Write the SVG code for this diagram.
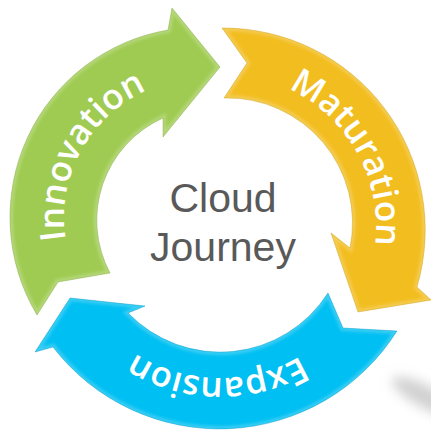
<svg xmlns="http://www.w3.org/2000/svg" width="431" height="430" viewBox="0 0 431 430">
  <style>
    .lbl { font-family: "Open Sans", "Liberation Sans", sans-serif; font-weight: 600; font-size: 35px; fill: #ffffff; }
    .ctr { font-family: "Liberation Sans", Arial, sans-serif; font-size: 41px; fill: #595959; text-anchor: middle; }
    .edge { fill: none; stroke: #ffffff; stroke-opacity: 0.22; stroke-width: 6; filter: url(#soft); }
    .rim { fill: none; stroke-width: 0.8; stroke-opacity: 0.5; }
  </style>
  <defs>
    <filter id="soft" x="-10%" y="-10%" width="120%" height="120%">
      <feGaussianBlur stdDeviation="1.6"/>
    </filter>
    <filter id="shadowBlur" x="-50%" y="-50%" width="200%" height="200%">
      <feGaussianBlur stdDeviation="6"/>
    </filter>
    <path id="gPath" d="M37,315 A190,190 0 0 1 168,30 L172,8 L220,67 L163,137 L163,118 A112,112 0 0 0 110,273 L58,282 Z"/>
    <path id="yPath" d="M222,28 A202,202 0 0 1 417,287 L431,300 L358,312 L331,233 L350,248 A125,125 0 0 0 224,98 L247,63 Z"/>
    <path id="bPath" d="M397,331 A210,210 0 0 1 53,347 L35,352 L70,298 L145,306 L128,313 A128,128 0 0 0 328,293 L343,328 Z"/>
    <clipPath id="gClip"><use href="#gPath"/></clipPath>
    <clipPath id="yClip"><use href="#yPath"/></clipPath>
    <clipPath id="bClip"><use href="#bPath"/></clipPath>
    <path id="gText" d="M82.8,288 A140,140 0 0 1 196.7,78.2"/>
    <path id="yText" d="M227.6,75 A151,151 0 0 1 354.4,303.8"/>
    <path id="bText" d="M355.4,301.4 A158,158 0 0 1 81.8,296.6"/>
  </defs>

  <ellipse cx="426" cy="397" rx="38" ry="11" transform="rotate(28 426 397)" fill="#9a9a9a" fill-opacity="0.45" filter="url(#shadowBlur)"/>

  <g id="innovation">
    <use href="#gPath" fill="#9fcb52"/>
    <use href="#gPath" class="edge" clip-path="url(#gClip)"/>
    <use href="#gPath" class="rim" stroke="#7fa63c"/>
    <text class="lbl"><textPath href="#gText" startOffset="50%" text-anchor="middle">Innovation</textPath></text>
  </g>

  <g id="maturation">
    <use href="#yPath" fill="#f2bd1f"/>
    <use href="#yPath" class="edge" clip-path="url(#yClip)"/>
    <use href="#yPath" class="rim" stroke="#c99a12"/>
    <text class="lbl"><textPath href="#yText" startOffset="50%" text-anchor="middle">Maturation</textPath></text>
  </g>

  <g id="expansion">
    <use href="#bPath" fill="#00bff2"/>
    <use href="#bPath" class="edge" clip-path="url(#bClip)"/>
    <use href="#bPath" class="rim" stroke="#0096c0"/>
    <text class="lbl"><textPath href="#bText" startOffset="50%" text-anchor="middle">Expansion</textPath></text>
  </g>

  <g id="center">
    <text class="ctr" x="223" y="212">Cloud</text>
    <text class="ctr" x="223" y="261">Journey</text>
  </g>
</svg>
